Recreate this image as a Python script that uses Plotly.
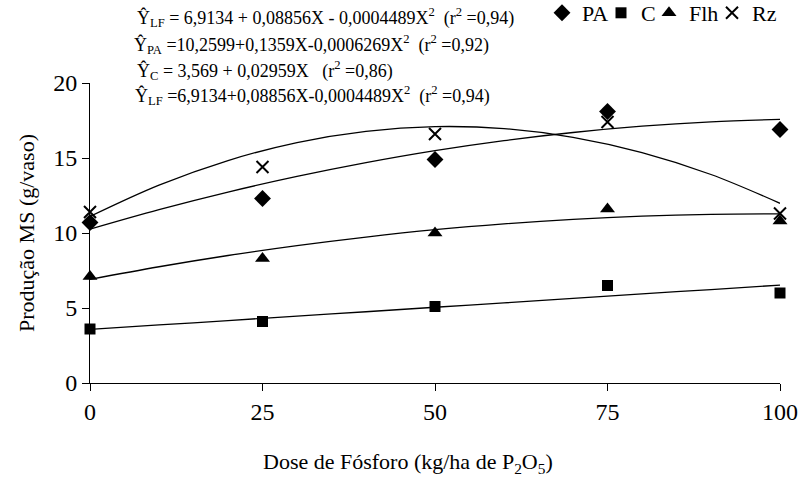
import plotly.graph_objects as go

# Observed data
dose = [0, 25, 50, 75, 100]
pa = [10.7, 12.3, 14.9, 18.1, 16.9]
c = [3.6, 4.1, 5.1, 6.5, 6.0]
flh = [7.1, 8.3, 10.0, 11.6, 10.8]
rz = [11.4, 14.4, 16.6, 17.4, 11.3]

# Trend lines
fit_x = [0, 10, 20, 30, 40, 50, 60, 70, 80, 90, 100]
fit_pa = [10.26, 11.56, 12.73, 13.77, 14.69, 15.49, 16.16, 16.70, 17.12, 17.41, 17.58]
fit_c = [3.57, 3.87, 4.16, 4.46, 4.75, 5.05, 5.34, 5.64, 5.94, 6.23, 6.53]
fit_flh = [6.91, 7.75, 8.50, 9.16, 9.73, 10.22, 10.61, 10.91, 11.12, 11.24, 11.28]
fit_rz = [11.10, 13.19, 14.83, 16.03, 16.78, 17.09, 16.96, 16.38, 15.36, 13.90, 11.98]

names = ["PA", "C", "Flh", "Rz"]
FONT = "Liberation Serif"

W, H = 802, 478
L, R, T, B = 90, 22, 83, 95
PW, PH = W - L - R, H - T - B

def px(x):
    return (x - L) / PW

def py(y):
    return (H - B - y) / PH

fig = go.Figure()

for fy in [fit_pa, fit_c, fit_flh, fit_rz]:
    fig.add_trace(go.Scatter(x=fit_x, y=fy, mode="lines", line=dict(color="black", width=1.3, shape="spline"),
                             showlegend=False, hoverinfo="skip"))

markers = [
    dict(symbol="diamond", size=13, color="black"),
    dict(symbol="square", size=11, color="black"),
    dict(symbol="triangle-up", size=13, color="black"),
    dict(symbol="x-thin", size=12, color="black", line=dict(color="black", width=2)),
]
leg_w = [14, 3, 18, 0]
for name, vals, mk, lw in zip(names, [pa, c, flh, rz], markers, leg_w):
    fig.add_trace(go.Scatter(x=dose, y=vals, mode="markers", name=name, marker=mk, cliponaxis=False,
                             legendwidth=lw if lw else None))

nb = "\u00a0"
eqs = [
    ("Ŷ<sub>LF</sub> = 6,9134 + 0,08856X - 0,0004489X<sup>2</sup>" + nb * 2 + "(r<sup>2</sup> =0,94)", 135, 17),
    ("Ŷ<sub>PA</sub> =10,2599+0,1359X-0,0006269X<sup>2</sup>" + nb * 2 + "(r<sup>2</sup> =0,92)", 132, 45),
    ("Ŷ<sub>C</sub> = 3,569 + 0,02959X" + nb * 3 + "(r<sup>2</sup> =0,86)", 135, 71),
    ("Ŷ<sub>LF</sub> =6,9134+0,08856X-0,0004489X<sup>2</sup>" + nb * 2 + "(r<sup>2</sup> =0,94)", 133, 95),
]
for txt, x0, y0 in eqs:
    fig.add_annotation(text=txt, xref="paper", yref="paper", x=px(x0), y=py(y0),
                       xanchor="left", yanchor="middle", showarrow=False,
                       font=dict(family=FONT, size=18, color="black"))

fig.add_annotation(text="Dose de Fósforo (kg/ha de P<sub>2</sub>O<sub>5</sub>)", xref="paper", yref="paper",
                   x=px(408), y=py(463), xanchor="center", yanchor="middle", showarrow=False,
                   font=dict(family=FONT, size=22, color="black"))
fig.add_annotation(text="Produção MS (g/vaso)", xref="paper", yref="paper",
                   x=px(26), y=py(233), xanchor="center", yanchor="middle", showarrow=False, textangle=-90,
                   font=dict(family=FONT, size=22, color="black"))

fig.update_layout(
    width=W, height=H,
    margin=dict(l=L, r=R, t=T, b=B, autoexpand=False),
    paper_bgcolor="white", plot_bgcolor="white",
    font=dict(family=FONT, size=24, color="black"),
    legend=dict(orientation="h", x=px(542), y=py(-8), xanchor="left", yanchor="top",
                font=dict(family=FONT, size=22, color="black"), itemwidth=30,
                bgcolor="rgba(0,0,0,0)", tracegroupgap=0),
)
fig.update_xaxes(range=[0, 100], tickvals=dose, showline=True, linecolor="black", linewidth=1,
                 ticks="outside", ticklen=7, tickcolor="black", showgrid=False, zeroline=False,
                 tickfont=dict(family=FONT, size=24, color="black"))
fig.update_yaxes(range=[0, 20], tickvals=[0, 5, 10, 15, 20], showline=True, linecolor="black", linewidth=1,
                 ticks="outside", ticklen=7, tickcolor="black", showgrid=False, zeroline=False,
                 tickfont=dict(family=FONT, size=24, color="black"))

fig.write_html("out.html")
